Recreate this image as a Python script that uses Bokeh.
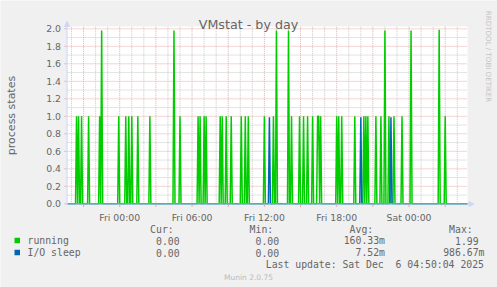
import math
import pandas as pd
from bokeh.plotting import figure
from bokeh.models import Range1d, Label, Arrow, NormalHead, BoxAnnotation
from bokeh.embed import file_html
from bokeh.resources import INLINE

# ---------------- data ----------------
TITLE = "VMstat - by day"
Y_LABEL = "process states"
RANGE_START = "2025-12-04 19:40"
RANGE_END = "2025-12-06 04:51"
X_TICKS = ["2025-12-05 00:00", "2025-12-05 06:00", "2025-12-05 12:00",
           "2025-12-05 18:00", "2025-12-06 00:00"]
Y_TICKS = [0.0, 0.2, 0.4, 0.6, 0.8, 1.0, 1.2, 1.4, 1.6, 1.8, 2.0]

RUNNING_TIMES = [
    "2025-12-04 20:25", "2025-12-04 20:35", "2025-12-04 20:50", "2025-12-04 21:25",
    "2025-12-04 22:20", "2025-12-04 22:30", "2025-12-04 23:55",
    "2025-12-05 00:30", "2025-12-05 00:45", "2025-12-05 01:00", "2025-12-05 01:30",
    "2025-12-05 02:30", "2025-12-05 04:30", "2025-12-05 05:00", "2025-12-05 06:30",
    "2025-12-05 06:40", "2025-12-05 07:00", "2025-12-05 07:10", "2025-12-05 08:20",
    "2025-12-05 08:30", "2025-12-05 08:50", "2025-12-05 09:15", "2025-12-05 10:05",
    "2025-12-05 10:25", "2025-12-05 10:40", "2025-12-05 12:00", "2025-12-05 12:45",
    "2025-12-05 13:00", "2025-12-05 14:00", "2025-12-05 14:15", "2025-12-05 14:55",
    "2025-12-05 15:15", "2025-12-05 15:35", "2025-12-05 16:00", "2025-12-05 16:25",
    "2025-12-05 16:30", "2025-12-05 16:40", "2025-12-05 18:00", "2025-12-05 18:10",
    "2025-12-05 18:25", "2025-12-05 19:30", "2025-12-05 20:15", "2025-12-05 20:25",
    "2025-12-05 20:35", "2025-12-05 21:15", "2025-12-05 21:40", "2025-12-05 22:00",
    "2025-12-05 22:20", "2025-12-05 22:45", "2025-12-05 23:25",
    "2025-12-06 00:10", "2025-12-06 02:30", "2025-12-06 03:00",
]
RUNNING_VALUES = [
    1.0, 1.0, 1.0, 1.0,
    1.0, 1.98, 1.0,
    1.0, 1.0, 1.0, 1.0,
    1.0, 1.98, 1.0, 1.0,
    1.0, 1.0, 1.0, 1.0,
    1.0, 1.0, 1.0, 1.0,
    1.0, 1.0, 1.0, 1.0,
    1.98, 1.98, 1.0, 1.0,
    1.0, 1.0, 1.0, 1.0,
    1.0, 1.0, 1.0, 1.0,
    1.0, 1.0, 1.0, 1.0,
    1.0, 1.0, 1.0, 1.98,
    1.0, 1.0, 1.0,
    1.98, 1.99, 1.0,
]
IOSLEEP_TIMES = ["2025-12-05 12:25", "2025-12-05 20:00", "2025-12-05 22:30"]
IOSLEEP_VALUES = [0.99, 0.99, 0.99]

SERIES_NAMES = ["running", "I/O sleep"]
SERIES_COLORS = ["#00CC00", "#0066B3"]
STAT_HEADERS = ["Cur:", "Min:", "Avg:", "Max:"]
STATS_RUNNING = ["0.00", "0.00", "160.33m", "1.99"]
STATS_IOSLEEP = ["0.00", "0.00", "7.52m", "986.67m"]
LAST_UPDATE = "Last update: Sat Dec  6 04:50:04 2025"
FOOTER = "Munin 2.0.75"
WATERMARK = "RRDTOOL / TOBI OETIKER"

# ---------------- helpers ----------------
def ms(s):
    return pd.Timestamp(s).value // 10**6

STEP = 5 * 60 * 1000  # 5 minute samples
X0, X1 = ms(RANGE_START), ms(RANGE_END)
SPAN = X1 - X0

def series(times, values):
    pts = {ms(t): v for t, v in zip(times, values)}
    for t in list(pts.keys()):
        for n in (t - STEP, t + STEP):
            pts.setdefault(n, 0.0)
    pts.setdefault(X0, 0.0)
    pts.setdefault(X1, 0.0)
    ks = sorted(pts)
    return ks, [pts[k] for k in ks]

# layout of the canvas (pixels)
W, H = 497, 287
PX_L, PX_R, PX_T = 67, 467, 26          # data area left / right / top
PX_ZERO, PX_PER_UNIT = 203.3, 87.5       # pixel row of value 0, pixels per unit

def vy(py):   # canvas pixel row -> value
    return (PX_ZERO - py) / PX_PER_UNIT

x_range = Range1d(X0 - PX_L / (PX_R - PX_L) * SPAN, X1 + (W - PX_R) / (PX_R - PX_L) * SPAN)
y_range = Range1d(vy(H), vy(0))

BG = "#F0F0F0"
FONT_COL = "#666666"
AXIS_COL = "#CFD6F8"
GRID_COL = "#C8C8C8"
MGRID_COL = "#EBA8A8"

p = figure(width=W, height=H, x_range=x_range, y_range=y_range,
           output_backend="svg", toolbar_location=None, title=None, min_border=0,
           x_axis_location=None, y_axis_location=None)
p.border_fill_color = BG
p.background_fill_color = BG
p.outline_line_color = None
p.xgrid.visible = False
p.ygrid.visible = False

# white canvas of the graph
p.add_layout(BoxAnnotation(left=X0, right=X1, bottom=vy(203.5), top=vy(PX_T),
                           fill_color="white", fill_alpha=1.0, line_color=None, level="image"))

# grid lines
hour_ms = 3600 * 1000
first_hour = (X0 // hour_ms + 1) * hour_ms
hours = list(range(first_hour, X1 + 1, hour_ms))
major3 = [h for h in hours if (h // hour_ms) % 3 == 0]
minor1 = [h for h in hours if (h // hour_ms) % 3 != 0]
y_top = vy(PX_T)
y_minor = [round(0.1 + 0.2 * i, 1) for i in range(10)]
for xs, col in ((minor1, GRID_COL), (major3, MGRID_COL)):
    p.segment(x0=xs, y0=[0] * len(xs), x1=xs, y1=[y_top] * len(xs),
              line_color=col, line_width=1, line_dash="1 1", level="underlay")
for ys, col in ((y_minor, GRID_COL), (Y_TICKS[1:], MGRID_COL)):
    p.segment(x0=[X0] * len(ys), y0=ys, x1=[X1] * len(ys), y1=ys,
              line_color=col, line_width=1, line_dash="1 1", level="underlay")

# data lines
for (times, vals), col in zip([(RUNNING_TIMES, RUNNING_VALUES), (IOSLEEP_TIMES, IOSLEEP_VALUES)],
                              SERIES_COLORS):
    xs, ys = series(times, vals)
    p.line(xs, ys, line_color=col, line_width=1.5)

# axes with arrows
U = dict(start_units="canvas", end_units="canvas")
p.add_layout(Arrow(end=NormalHead(size=5, fill_color=AXIS_COL, line_color=AXIS_COL, line_width=1),
                   x_start=66, y_start=203.5, x_end=473.5, y_end=203.5,
                   line_color=AXIS_COL, line_width=1, **U))
p.add_layout(Arrow(end=NormalHead(size=5, fill_color=AXIS_COL, line_color=AXIS_COL, line_width=1),
                   x_start=66.5, y_start=204, x_end=66.5, y_end=21,
                   line_color=AXIS_COL, line_width=1, **U))

# tick marks
p.segment(x0=major3, y0=[vy(204.5)] * len(major3), x1=major3, y1=[vy(206.5)] * len(major3),
          line_color=MGRID_COL, line_width=1, level="annotation")
x_left = x_range.start + 64 / W * (x_range.end - x_range.start)
x_axis = x_range.start + 66 / W * (x_range.end - x_range.start)
p.segment(x0=[x_left] * len(Y_TICKS), y0=Y_TICKS, x1=[x_axis] * len(Y_TICKS), y1=Y_TICKS,
          line_color=MGRID_COL, line_width=1, level="annotation")

def lab(px, py, text, size, font="DejaVu Sans", color=FONT_COL, align="left",
        baseline="middle", angle=0.0, xu="canvas", yu="canvas"):
    p.add_layout(Label(x=px, y=py, x_units=xu, y_units=yu, text=text,
                       text_font=font, text_font_size=size, text_color=color,
                       text_align=align, text_baseline=baseline, angle=angle))

# tick labels
for t in X_TICKS:
    lab(ms(t), 216.5, pd.Timestamp(t).strftime("%a %H:%M"), "9.3px", align="center",
        baseline="alphabetic", xu="data")
for v in Y_TICKS:
    lab(60.5, v, f"{v:.1f}", "9.3px", align="right", yu="data")

lab(248, 24, TITLE, "12.7px", align="center", baseline="alphabetic")
lab(11.2, 115, Y_LABEL, "11px", align="center", angle=math.pi / 2)
lab(488, 56, WATERMARK, "7.1px", color="#C4C4C4", align="center", angle=-math.pi / 2)

# legend
MONO = "DejaVu Sans Mono"
CW = 5.9
col_right = [185, 284.5, 384.5, 484]
for hdr, cr in zip(STAT_HEADERS, col_right):
    lab(cr - 2 * CW, 228.5, hdr, "9.8px", font=MONO, align="right")
for row_y, name, col, stats in zip([240, 252], SERIES_NAMES, SERIES_COLORS,
                                   [STATS_RUNNING, STATS_IOSLEEP]):
    p.add_layout(BoxAnnotation(left=14, right=19.5, top=row_y - 2.7, bottom=row_y + 2.7,
                               left_units="canvas", right_units="canvas",
                               top_units="canvas", bottom_units="canvas",
                               fill_color=col, fill_alpha=1.0, line_color=None))
    lab(27, row_y, name, "9.8px", font=MONO)
    for s, cr in zip(stats, col_right):
        has_unit = s[-1].isalpha()
        lab(cr if has_unit else cr - CW, row_y, s, "9.8px", font=MONO, align="right")
lab(483.5, 263.5, LAST_UPDATE.replace("  ", " \u00a0"), "9.8px", font=MONO, align="right")
lab(248, 277, FOOTER, "7.5px", color="#BBBBBB", align="center")

open("out.html", "w").write(file_html(p, INLINE))
